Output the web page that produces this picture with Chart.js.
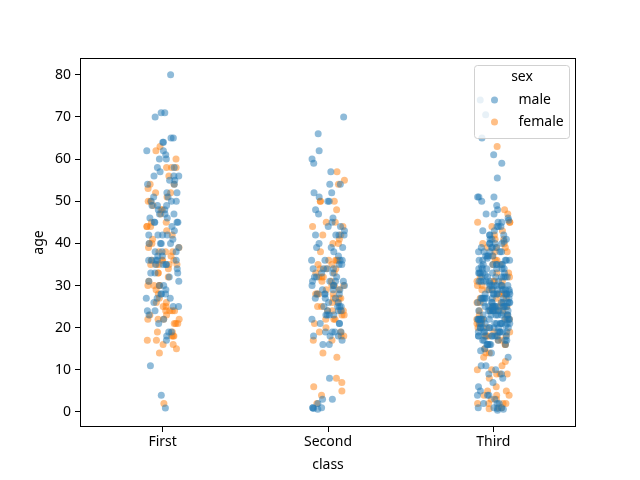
<!DOCTYPE html>
<html lang="en">
<head>
  <meta charset="UTF-8">
  <title>age by class</title>
  <script src="https://cdn.jsdelivr.net/npm/chart.js"></script>
  <style>
    html, body { margin: 0; padding: 0; background: #fff; }
    #wrap { width: 640px; height: 480px; }
  </style>
</head>
<body>
  <div id="wrap"><canvas id="strip" width="640" height="480"></canvas></div>

  <script>
    const classes = ['First', 'Second', 'Third'];
    const sexes = ['male', 'female'];
    const yTicks = [0, 10, 20, 30, 40, 50, 60, 70, 80];

    // ages, one list per class and sex
    const firstMale = [80, 71, 71, 70, 65, 65, 64, 64, 62, 62, 61, 60, 60, 58, 58, 57, 56, 56, 55, 55,
      54, 54, 52, 52, 51, 50, 50, 50, 49, 49, 48, 48, 47, 47, 46, 46, 45, 45, 45, 44, 43, 42, 42, 42,
      41, 40, 40, 40, 39, 38, 38, 37, 37, 36, 36, 36, 36, 35, 35, 35, 35, 34, 33, 33, 32, 31, 31, 30,
      30, 29, 28, 28, 27, 27, 27, 26, 25, 25, 24, 23, 22, 21, 19, 19, 18, 17, 11, 4, 0.92, 36, 38, 45,
      49, 51, 47, 42, 56, 40, 33, 28, 24];
    const firstFemale = [63, 62, 60, 58, 58, 56, 54, 54, 53, 52, 52, 51, 50, 50, 49, 48, 47, 45, 44, 44,
      43, 42, 41, 40, 40, 39, 39, 38, 38, 37, 36, 36, 36, 35, 35, 35, 35, 34, 33, 33, 32, 31, 30, 30,
      30, 29, 28, 27, 26, 26, 25, 25, 24, 24, 24, 23, 23, 22, 22, 22, 22, 21, 21, 21, 19, 19, 18, 18,
      18, 17, 17, 16, 16, 15, 14, 2, 24, 30, 36, 44, 48, 58, 45, 35, 38];
    const secondMale = [70, 66, 62, 60, 59, 57, 54, 54, 52, 52, 51, 50, 48, 47, 46, 44, 43, 42, 42, 42,
      40, 39, 39, 38, 37, 36, 36, 36, 35, 34, 34, 34, 33, 32, 32, 31, 31, 31, 30, 30, 30, 29, 29, 28,
      28, 28, 27, 27, 26, 25, 25, 25, 24, 24, 23, 23, 23, 22, 21, 21, 19, 19, 19, 19, 18, 18, 18, 17,
      16, 16, 3, 3, 2, 1, 1, 0.83, 0.67, 1, 8, 25, 27, 29, 30, 32, 33, 35, 36, 39, 42, 44, 21, 24, 26,
      23, 28, 31, 34, 50, 45];
    const secondFemale = [57, 55, 54, 50, 50, 48, 45, 45, 44, 42, 41, 40, 40, 38, 36, 36, 36, 35, 34, 34,
      33, 32, 32, 31, 30, 30, 29, 28, 28, 28, 27, 27, 26, 25, 24, 24, 24, 23, 22, 22, 21, 20, 19, 18,
      18, 17, 17, 14, 13, 8, 7, 6, 5, 4, 2, 24, 29, 30, 33, 34, 42, 31, 26, 27, 32, 36, 25, 19, 22, 23,
      44, 35, 28, 50];
    const thirdMale = [74, 70.5, 65, 61, 59, 55.5, 51, 51, 51, 50,
      49, 48, 47, 47, 46, 45, 45, 45.5, 44, 44, 44, 43, 42, 42, 42, 41, 41, 40, 40, 40.5, 40, 40,
      39, 39, 39, 38, 38, 38, 38, 37, 37, 36, 36, 36, 36.5, 35, 35, 35, 35, 34, 34, 34, 34.5, 34, 33,
      33, 33, 33, 32, 32, 32, 32.5, 32, 32, 31, 31, 31, 31, 30, 30, 30, 30, 30.5, 30, 33, 36, 39, 38,
      37, 35, 34, 32, 31, 30, 36, 33, 35,
      29, 29, 29, 29, 29, 28, 28, 28, 28, 28.5, 28, 28, 27, 27, 27, 27, 26, 26, 26, 26, 26, 25, 25, 25,
      25, 25, 25, 24, 24, 24, 24, 24.5, 24, 23, 23, 23, 23, 23.5, 22, 22, 22, 22, 22, 22, 22, 21, 21,
      21, 21, 21, 21, 21, 20, 20, 20, 20, 20, 20.5, 20, 29, 28, 27, 26, 25, 24, 23, 22, 21, 20, 26, 25,
      24, 22, 21, 28, 27, 29, 23, 24, 25, 26, 21, 22, 20, 28, 27, 25, 24, 26, 23, 32, 34, 30, 27, 41,
      43, 37, 25, 22, 31,
      19, 19, 19, 19, 19, 19, 19, 18, 18, 18, 18, 18, 18, 18, 17, 17, 17, 17, 16, 16, 16, 16, 16, 15,
      14, 14.5, 13, 11, 11, 10, 19, 18, 17, 16,
      9, 9, 8, 7, 6, 5, 4, 4, 4, 3, 2, 2, 2, 1, 1, 1, 0.42, 0.83, 0.67];
    const thirdFemale = [63, 48, 47, 45, 45, 41, 40, 40, 39, 38, 37, 36, 35, 33, 32, 31, 31, 30, 30, 29,
      28, 28, 27, 27, 26, 26, 25, 24, 24, 23, 22, 22, 22, 21, 21, 20, 19, 18, 18, 18, 17, 16, 16, 15,
      14, 14, 13, 12, 11, 10, 9, 9, 8, 6, 5, 5, 4, 4, 4, 3, 3, 2, 2, 2, 2, 1, 1, 0.75, 39, 38, 36, 33,
      32, 29, 27, 25, 24, 23, 22, 21, 20, 19, 18, 28, 30, 31, 35, 42, 43, 44, 26, 24, 22, 18, 17, 25,
      29, 31, 39, 45, 41, 9, 10];

    const maleAges = [firstMale, secondMale, thirdMale];
    const femaleAges = [firstFemale, secondFemale, thirdFemale];
    const colors = ['rgba(31,119,180,0.5)', 'rgba(255,127,14,0.5)'];

    // strip jitter, +-0.1 of a category, fixed per point
    function jitter(i, seed) {
      const v = Math.sin((i + 1) * 12.9898 + seed * 78.233) * 43758.5453;
      return (v - Math.floor(v) - 0.5) * 0.2;
    }

    function toPoints(lists, seed) {
      const pts = [];
      lists.forEach((ages, c) => {
        ages.forEach((a, i) => pts.push({ x: c + jitter(i, seed + c * 7), y: a }));
      });
      return pts;
    }

    const FONT = { family: "'Noto Sans', 'Open Sans', sans-serif", size: 14 };

    const framePlugin = {
      id: 'frame',
      afterDatasetsDraw(chart) {
        const { ctx, chartArea: a } = chart;
        ctx.save();
        ctx.strokeStyle = '#000';
        ctx.lineWidth = 1;
        ctx.strokeRect(Math.round(a.left) + 0.5, Math.round(a.top) + 0.5,
          Math.round(a.right - a.left) - 1, Math.round(a.bottom - a.top) - 1);
        ctx.restore();
      }
    };

    const legendPlugin = {
      id: 'sexLegend',
      afterDraw(chart) {
        const { ctx, chartArea: a } = chart;
        const w = 95, h = 73;
        const x = a.right - 101.5, y = a.top + 7.5;
        ctx.save();
        ctx.beginPath();
        ctx.roundRect(x, y, w, h, 3);
        ctx.fillStyle = 'rgba(255,255,255,0.8)';
        ctx.fill();
        ctx.strokeStyle = 'rgba(204,204,204,0.9)';
        ctx.lineWidth = 1;
        ctx.stroke();
        ctx.fillStyle = '#000';
        ctx.font = `${FONT.size}px ${FONT.family}`;
        ctx.textBaseline = 'middle';
        ctx.textAlign = 'center';
        ctx.fillText('sex', x + 47.5, y + 11.5);
        ctx.textAlign = 'left';
        chart.data.datasets.forEach((ds, k) => {
          const ry = y + 34.5 + k * 22;
          ctx.beginPath();
          ctx.arc(x + 20, ry, 3.5, 0, Math.PI * 2);
          ctx.fillStyle = ds.backgroundColor;
          ctx.fill();
          ctx.fillStyle = '#000';
          ctx.fillText(ds.label, x + 44, ry);
        });
        ctx.restore();
      }
    };

    new Chart(document.getElementById('strip'), {
      type: 'scatter',
      data: {
        datasets: [
          { label: sexes[0], data: toPoints(maleAges, 1), backgroundColor: colors[0], borderWidth: 0, pointRadius: 3.5, pointHoverRadius: 3.5 },
          { label: sexes[1], data: toPoints(femaleAges, 3), backgroundColor: colors[1], borderWidth: 0, pointRadius: 3.5, pointHoverRadius: 3.5 }
        ]
      },
      options: {
        responsive: false,
        animation: false,
        events: [],
        layout: { padding: { left: 0, top: 58, right: 64, bottom: 0 } },
        plugins: { legend: { display: false }, tooltip: { enabled: false } },
        scales: {
          x: {
            type: 'linear', min: -0.5, max: 2.5,
            afterBuildTicks: s => { s.ticks = classes.map((_, i) => ({ value: i })); },
            afterFit: s => { s.height = 53; },
            ticks: { color: '#000', font: FONT, padding: 2, maxRotation: 0,
              callback: v => classes[v] },
            grid: { drawOnChartArea: false, drawTicks: true, tickLength: 5, color: '#000' },
            border: { display: false },
            title: { display: true, text: 'class', color: '#000', font: FONT, padding: { top: 0, bottom: 7 } }
          },
          y: {
            type: 'linear', min: -3.56, max: 83.98,
            afterBuildTicks: s => { s.ticks = yTicks.map(v => ({ value: v })); },
            afterFit: s => { s.width = 80; },
            ticks: { color: '#000', font: FONT, padding: 4 },
            grid: { drawOnChartArea: false, drawTicks: true, tickLength: 5, color: '#000' },
            border: { display: false },
            title: { display: true, text: 'age', color: '#000', font: FONT, padding: { top: 31, bottom: 0 } }
          }
        }
      },
      plugins: [framePlugin, legendPlugin]
    });
  </script>
</body>
</html>
